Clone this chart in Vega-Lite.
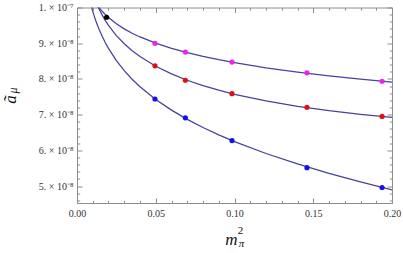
{
  "$schema": "https://vega.github.io/schema/vega-lite/v6.json",
  "autosize": {"type": "none"},
  "padding": {"left": 77, "top": 7.5, "right": 11, "bottom": 50},
  "width": 315,
  "height": 195.5,
  "background": "white",
  "config": {
    "view": {"stroke": "#8c8c8c", "strokeWidth": 1},
    "axis": {
      "grid": false,
      "domain": false,
      "labelFont": "Liberation Serif",
      "labelFontSize": 10,
      "labelColor": "#333333",
      "tickColor": "#8c8c8c",
      "tickWidth": 1,
      "titleFont": "Liberation Serif",
      "titleFontWeight": "normal",
      "titleFontStyle": "italic",
      "titleColor": "#111111"
    }
  },
  "datasets": {
    "curves": [
      {"curve": "c3", "x": 0.008, "y": 10.223},
      {"curve": "c1", "x": 0.009, "y": 10.346}, {"curve": "c1", "x": 0.010, "y": 10.263}, {"curve": "c1", "x": 0.011, "y": 10.188}, {"curve": "c1", "x": 0.012, "y": 10.120}, {"curve": "c1", "x": 0.013, "y": 10.057}, {"curve": "c1", "x": 0.014, "y": 9.999}, {"curve": "c1", "x": 0.016, "y": 9.894}, {"curve": "c1", "x": 0.018, "y": 9.802}, {"curve": "c1", "x": 0.020, "y": 9.719}, {"curve": "c1", "x": 0.025, "y": 9.544}, {"curve": "c1", "x": 0.030, "y": 9.401}, {"curve": "c1", "x": 0.035, "y": 9.280}, {"curve": "c1", "x": 0.040, "y": 9.175}, {"curve": "c1", "x": 0.050, "y": 9.000}, {"curve": "c1", "x": 0.060, "y": 8.857}, {"curve": "c1", "x": 0.070, "y": 8.736}, {"curve": "c1", "x": 0.080, "y": 8.631}, {"curve": "c1", "x": 0.090, "y": 8.538}, {"curve": "c1", "x": 0.100, "y": 8.456}, {"curve": "c1", "x": 0.120, "y": 8.312}, {"curve": "c1", "x": 0.140, "y": 8.191}, {"curve": "c1", "x": 0.160, "y": 8.087}, {"curve": "c1", "x": 0.180, "y": 7.994}, {"curve": "c1", "x": 0.200, "y": 7.911},
      {"curve": "c2", "x": 0.009, "y": 10.538}, {"curve": "c2", "x": 0.010, "y": 10.399}, {"curve": "c2", "x": 0.011, "y": 10.274}, {"curve": "c2", "x": 0.012, "y": 10.161}, {"curve": "c2", "x": 0.013, "y": 10.056}, {"curve": "c2", "x": 0.014, "y": 9.960}, {"curve": "c2", "x": 0.016, "y": 9.786}, {"curve": "c2", "x": 0.018, "y": 9.634}, {"curve": "c2", "x": 0.020, "y": 9.499}, {"curve": "c2", "x": 0.025, "y": 9.214}, {"curve": "c2", "x": 0.030, "y": 8.984}, {"curve": "c2", "x": 0.035, "y": 8.791}, {"curve": "c2", "x": 0.040, "y": 8.627}, {"curve": "c2", "x": 0.050, "y": 8.356}, {"curve": "c2", "x": 0.060, "y": 8.140}, {"curve": "c2", "x": 0.070, "y": 7.962}, {"curve": "c2", "x": 0.080, "y": 7.811}, {"curve": "c2", "x": 0.090, "y": 7.683}, {"curve": "c2", "x": 0.100, "y": 7.569}, {"curve": "c2", "x": 0.120, "y": 7.382}, {"curve": "c2", "x": 0.140, "y": 7.233}, {"curve": "c2", "x": 0.160, "y": 7.110}, {"curve": "c2", "x": 0.180, "y": 7.009}, {"curve": "c2", "x": 0.200, "y": 6.925},
      {"curve": "c3", "x": 0.009, "y": 10.050}, {"curve": "c3", "x": 0.010, "y": 9.893}, {"curve": "c3", "x": 0.011, "y": 9.752}, {"curve": "c3", "x": 0.012, "y": 9.622}, {"curve": "c3", "x": 0.013, "y": 9.503}, {"curve": "c3", "x": 0.014, "y": 9.392}, {"curve": "c3", "x": 0.016, "y": 9.192}, {"curve": "c3", "x": 0.018, "y": 9.014}, {"curve": "c3", "x": 0.020, "y": 8.855}, {"curve": "c3", "x": 0.025, "y": 8.515}, {"curve": "c3", "x": 0.030, "y": 8.233}, {"curve": "c3", "x": 0.035, "y": 7.992}, {"curve": "c3", "x": 0.040, "y": 7.781}, {"curve": "c3", "x": 0.050, "y": 7.424}, {"curve": "c3", "x": 0.060, "y": 7.125}, {"curve": "c3", "x": 0.070, "y": 6.867}, {"curve": "c3", "x": 0.080, "y": 6.638}, {"curve": "c3", "x": 0.090, "y": 6.433}, {"curve": "c3", "x": 0.100, "y": 6.245}, {"curve": "c3", "x": 0.120, "y": 5.911}, {"curve": "c3", "x": 0.140, "y": 5.619}, {"curve": "c3", "x": 0.160, "y": 5.356}, {"curve": "c3", "x": 0.180, "y": 5.115}, {"curve": "c3", "x": 0.200, "y": 4.892}
    ],
    "points": [
      {"series": "s0", "x": 0.0188, "y": 9.727},
      {"series": "s1", "x": 0.0495, "y": 8.997}, {"series": "s1", "x": 0.0688, "y": 8.752}, {"series": "s1", "x": 0.0984, "y": 8.470}, {"series": "s1", "x": 0.146, "y": 8.169}, {"series": "s1", "x": 0.1937, "y": 7.935},
      {"series": "s2", "x": 0.0495, "y": 8.366}, {"series": "s2", "x": 0.0688, "y": 7.963}, {"series": "s2", "x": 0.0984, "y": 7.586}, {"series": "s2", "x": 0.146, "y": 7.203}, {"series": "s2", "x": 0.1937, "y": 6.949},
      {"series": "s3", "x": 0.0495, "y": 7.437}, {"series": "s3", "x": 0.0688, "y": 6.910}, {"series": "s3", "x": 0.0984, "y": 6.273}, {"series": "s3", "x": 0.146, "y": 5.513}, {"series": "s3", "x": 0.1937, "y": 4.958}
    ]
  },
  "resolve": {"axis": {"x": "independent", "y": "independent"}},
  "layer": [
    {
      "data": {"name": "curves"},
      "mark": {"type": "line", "color": "#4343a0", "strokeWidth": 1.25, "clip": true},
      "encoding": {
        "detail": {"field": "curve"},
        "order": {"field": "x"},
        "x": {
          "field": "x", "type": "quantitative",
          "scale": {"domain": [0, 0.2], "nice": false, "zero": false},
          "axis": {"orient": "bottom", "values": [0, 0.05, 0.1, 0.15, 0.2], "format": ".2f", "ticks": false, "labelPadding": 5, "labelFlush": false,
            "title": "m", "titleFontSize": 17, "titleX": 154, "titleY": 41, "titleBaseline": "alphabetic", "titleAlign": "center"}
        },
        "y": {
          "field": "y", "type": "quantitative",
          "scale": {"domain": [4.524, 10], "nice": false, "zero": false},
          "axis": {"orient": "left", "values": [5, 6, 7, 8, 9, 10], "ticks": false, "labelPadding": 4, "labelFlush": false,
            "labelExpr": "datum.value == 10 ? '1. × 10⁻⁷' : format(datum.value, 'd') + '. × 10⁻⁸'",
            "title": "ã", "titleFontSize": 17, "titleAngle": -90, "titleX": -62, "titleY": 91.5, "titleBaseline": "alphabetic", "titleAlign": "center"}
        }
      }
    },
    {
      "data": {"name": "points"},
      "mark": {"type": "circle", "size": 27, "opacity": 1, "clip": true},
      "encoding": {
        "x": {"field": "x", "type": "quantitative",
          "axis": {"orient": "bottom", "values": [0, 0.05, 0.1, 0.15, 0.2], "labels": false, "tickSize": -5,
            "title": "π", "titleFontSize": 11, "titleX": 164, "titleY": 43, "titleBaseline": "alphabetic", "titleAlign": "center"}},
        "y": {"field": "y", "type": "quantitative",
          "axis": {"orient": "left", "values": [5, 6, 7, 8, 9, 10], "labels": false, "tickSize": -5,
            "title": "μ", "titleFontSize": 12, "titleAngle": -90, "titleX": -60.5, "titleY": 82.5, "titleBaseline": "alphabetic", "titleAlign": "center"}},
        "color": {"field": "series", "type": "nominal", "legend": null,
          "scale": {"domain": ["s0", "s1", "s2", "s3"], "range": ["#000000", "#ee22ee", "#dd1111", "#1111ee"]}}
      }
    },
    {
      "data": {"name": "points"},
      "mark": {"type": "point", "opacity": 0},
      "encoding": {
        "x": {"field": "x", "type": "quantitative",
          "axis": {"orient": "bottom", "values": [0.01, 0.02, 0.03, 0.04, 0.06, 0.07, 0.08, 0.09, 0.11, 0.12, 0.13, 0.14, 0.16, 0.17, 0.18, 0.19], "labels": false, "tickSize": -2.7, "title": null}},
        "y": {"field": "y", "type": "quantitative",
          "axis": {"orient": "left", "values": [4.6, 4.8, 5.2, 5.4, 5.6, 5.8, 6.2, 6.4, 6.6, 6.8, 7.2, 7.4, 7.6, 7.8, 8.2, 8.4, 8.6, 8.8, 9.2, 9.4, 9.6, 9.8], "labels": false, "tickSize": -2.7, "title": null}}
      }
    },
    {
      "data": {"name": "points"},
      "mark": {"type": "point", "opacity": 0},
      "encoding": {
        "x": {"field": "x", "type": "quantitative",
          "axis": {"orient": "top", "values": [0, 0.05, 0.1, 0.15, 0.2], "labels": false, "tickSize": -5,
            "title": "2", "titleFontStyle": "normal", "titleFontSize": 11, "titleX": 163, "titleY": 225.5, "titleBaseline": "alphabetic", "titleAlign": "center"}},
        "y": {"field": "y", "type": "quantitative",
          "axis": {"orient": "right", "values": [5, 6, 7, 8, 9, 10], "labels": false, "tickSize": -5, "title": null}}
      }
    },
    {
      "data": {"name": "points"},
      "mark": {"type": "point", "opacity": 0},
      "encoding": {
        "x": {"field": "x", "type": "quantitative",
          "axis": {"orient": "top", "values": [0.01, 0.02, 0.03, 0.04, 0.06, 0.07, 0.08, 0.09, 0.11, 0.12, 0.13, 0.14, 0.16, 0.17, 0.18, 0.19], "labels": false, "tickSize": -2.7, "title": null}},
        "y": {"field": "y", "type": "quantitative",
          "axis": {"orient": "right", "values": [4.6, 4.8, 5.2, 5.4, 5.6, 5.8, 6.2, 6.4, 6.6, 6.8, 7.2, 7.4, 7.6, 7.8, 8.2, 8.4, 8.6, 8.8, 9.2, 9.4, 9.6, 9.8], "labels": false, "tickSize": -2.7, "title": null}}
      }
    }
  ]
}
